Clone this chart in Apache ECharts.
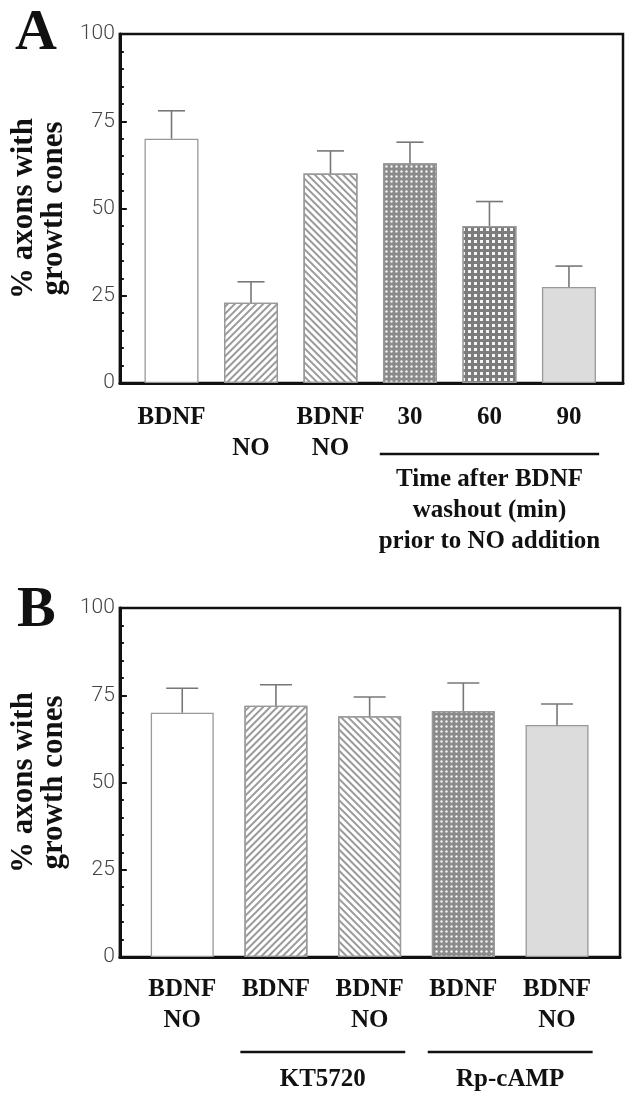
<!DOCTYPE html>
<html>
<head>
<meta charset="utf-8">
<script src="https://cdn.jsdelivr.net/npm/echarts@6/dist/echarts.min.js"></script>
<style>
  html, body { margin: 0; padding: 0; background: #fff; }
  #chart { width: 627px; height: 1095px; }
</style>
</head>
<body>
<div id="chart"></div>
<script>
// panel A data
const catsA = ['BDNF', '\nNO', 'BDNF\nNO', '30', '60', '90'];
const valsA = [70, 23, 60, 63, 45, 27.5];
const errA = [8, 6, 6.5, 6, 7, 6];
const groupsA = [{ label: 'Time after BDNF\nwashout (min)\nprior to NO addition', from: 3, to: 5 }];

// panel B data
const catsB = ['BDNF\nNO', 'BDNF', 'BDNF\nNO', 'BDNF', 'BDNF\nNO'];
const valsB = [70, 72, 69, 70.5, 66.5];
const errB = [7, 6, 5.5, 8, 6];
const groupsB = [
  { label: 'KT5720', from: 1, to: 2 },
  { label: 'Rp-cAMP', from: 3, to: 4 }
];

const yTicks = [0, 25, 50, 75, 100];
const yTitle = '% axons with\ngrowth cones';

// fill patterns
const plain = { color: '#fff' };
const hatchUp = { color: '#fff', decal: { symbol: 'rect', symbolSize: 1, dashArrayX: [1, 0], dashArrayY: [2, 2.5], rotation: -Math.PI / 4, color: '#9a9a9a' } };
const hatchDown = { color: '#fff', decal: { symbol: 'rect', symbolSize: 1, dashArrayX: [1, 0], dashArrayY: [2, 2.5], rotation: Math.PI / 4, color: '#9a9a9a' } };
const dots = { color: '#8a8a8a', decal: { symbol: 'circle', symbolSize: 0.8, dashArrayX: [2.6, 2], dashArrayY: [2.6, 2], color: '#f4f4f4' } };
const plaid = { color: '#7c7c7c', decal: { symbol: 'rect', symbolSize: 1, dashArrayX: [2.4, 2.3], dashArrayY: [2.4, 2.3], color: '#f6f6f6' } };
const stipple = { color: '#dcdcdc' };
const patternsA = [plain, hatchUp, hatchDown, dots, plaid, stipple];
const patternsB = [plain, hatchUp, hatchDown, dots, stipple];

const serif = "'Liberation Serif', 'DejaVu Serif', serif";

const chart = echarts.init(document.getElementById('chart'));

function xAxisFor(cats, gridIndex, min, max, margin) {
  return {
    type: 'value', gridIndex, min, max,
    axisLine: { show: true, onZero: false, lineStyle: { color: '#111', width: 3 } },
    axisTick: { show: false },
    splitLine: { show: false },
    axisLabel: {
      customValues: cats.map((c, i) => i),
      formatter: v => cats[Math.round(v)],
      margin,
      fontFamily: serif, fontWeight: 'bold', fontSize: 25, lineHeight: 31, color: '#111'
    }
  };
}

function yAxisFor(gridIndex) {
  return {
    type: 'value', gridIndex, min: 0, max: 100, interval: 25,
    name: yTitle, nameLocation: 'middle', nameRotate: 90, nameGap: 44,
    nameTextStyle: { fontFamily: serif, fontWeight: 'bold', fontSize: 31, lineHeight: 30, color: '#111' },
    axisLine: { show: true, onZero: false, lineStyle: { color: '#111', width: 3 } },
    axisTick: { show: true, inside: true, length: 7, lineStyle: { color: '#111', width: 2 } },
    minorTick: { show: true, splitNumber: 5, length: 4, lineStyle: { color: '#111', width: 2 } },
    splitLine: { show: false },
    axisLabel: {
      margin: 5, fontFamily: 'Roboto', fontWeight: 300, fontSize: 21, color: '#444',
      formatter: v => (yTicks.indexOf(v) >= 0 ? String(v) : '')
    }
  };
}

function barSeries(vals, patterns, idx, width) {
  return {
    type: 'bar', xAxisIndex: idx, yAxisIndex: idx, barWidth: width,
    data: vals.map((v, i) => ({
      value: [i, v],
      itemStyle: Object.assign({ borderColor: '#999', borderWidth: 1.3 }, patterns[i])
    })),
    z: 2
  };
}

function errSeries(vals, errs, idx, cap) {
  return {
    type: 'custom', xAxisIndex: idx, yAxisIndex: idx, z: 3,
    data: vals.map((v, i) => [i, v, errs[i]]),
    encode: { x: 0, y: 1 },
    renderItem: (params, api) => {
      const x = api.value(0), v = api.value(1), e = api.value(2);
      const p0 = api.coord([x, v]);
      const p1 = api.coord([x, v + e]);
      const st = { stroke: '#777', lineWidth: 1.6 };
      return {
        type: 'group',
        children: [
          { type: 'line', shape: { x1: p0[0], y1: p0[1], x2: p1[0], y2: p1[1] }, style: st },
          { type: 'line', shape: { x1: p1[0] - cap, y1: p1[1], x2: p1[0] + cap, y2: p1[1] }, style: st }
        ]
      };
    }
  };
}

function groupSeries(groups, idx, pad, lineOff, textOff) {
  return {
    type: 'custom', xAxisIndex: idx, yAxisIndex: idx, z: 3, clip: false, silent: true,
    data: groups.map(g => [g.from, g.to, 0]),
    encode: { x: [0, 1], y: 2 },
    renderItem: (params, api) => {
      const g = groups[params.dataIndex];
      const a = api.coord([api.value(0) - pad, 0]);
      const b = api.coord([api.value(1) + pad, 0]);
      const y = a[1];
      return {
        type: 'group',
        children: [
          { type: 'line', shape: { x1: a[0], y1: y + lineOff, x2: b[0], y2: y + lineOff }, style: { stroke: '#111', lineWidth: 2.4 } },
          {
            type: 'text', x: (a[0] + b[0]) / 2, y: y + textOff,
            style: {
              text: g.label, align: 'center', verticalAlign: 'top',
              fontFamily: serif, fontWeight: 'bold', fontSize: 25, lineHeight: 31, fill: '#111'
            }
          }
        ]
      };
    }
  };
}

chart.setOption({
  animation: false,
  title: [
    { text: 'A', left: 15, top: 5, padding: 0, textStyle: { fontFamily: serif, fontWeight: 'bold', fontSize: 58, color: '#111' } },
    { text: 'B', left: 17, top: 582, padding: 0, textStyle: { fontFamily: serif, fontWeight: 'bold', fontSize: 58, color: '#111' } }
  ],
  grid: [
    { left: 118, top: 34, width: 505, height: 349, show: true, borderColor: '#111', borderWidth: 2.5, backgroundColor: 'transparent' },
    { left: 115, top: 608, width: 505, height: 349, show: true, borderColor: '#111', borderWidth: 2.5, backgroundColor: 'transparent' }
  ],
  xAxis: [
    xAxisFor(catsA, 0, -0.65, 5.68, 19),
    xAxisFor(catsB, 1, -0.666, 4.672, 17)
  ],
  yAxis: [yAxisFor(0), yAxisFor(1)],
  series: [
    barSeries(valsA, patternsA, 0, 54),
    errSeries(valsA, errA, 0, 13.5),
    groupSeries(groupsA, 0, 0.38, 71, 81.5),
    barSeries(valsB, patternsB, 1, 63),
    errSeries(valsB, errB, 1, 16),
    groupSeries(groupsB, 1, 0.38, 95, 107.5)
  ]
});
</script>
</body>
</html>
